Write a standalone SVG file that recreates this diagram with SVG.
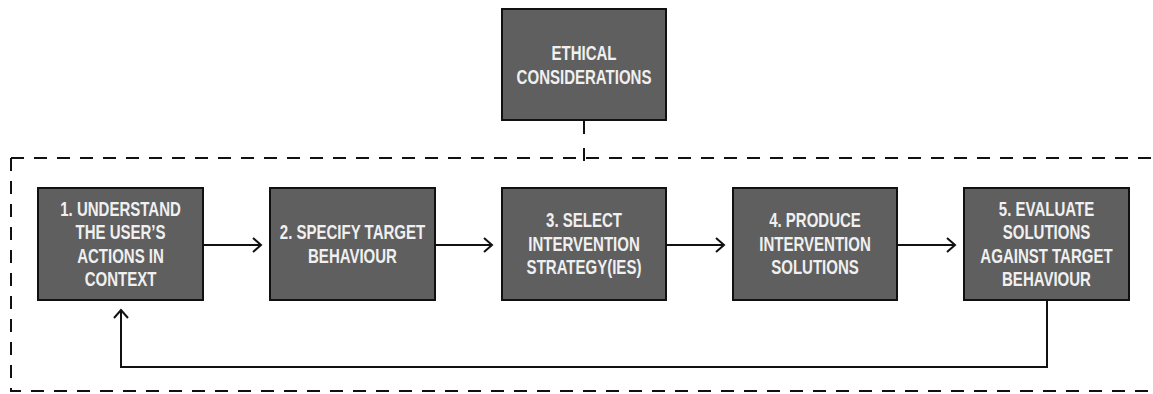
<svg xmlns="http://www.w3.org/2000/svg" width="1153" height="394" viewBox="0 0 1153 394">
<style>
.box{fill:#5f5f5f;stroke:#111;stroke-width:2}
.lbl{font-family:"Liberation Sans",Arial,sans-serif;font-weight:bold;font-size:19.5px;fill:#f0f0f0;text-anchor:middle}
.conn{fill:none;stroke:#111;stroke-width:2}
.frame{fill:none;stroke:#111;stroke-width:2;stroke-dasharray:13 10}
</style>
<defs>
<marker id="arr" markerUnits="userSpaceOnUse" markerWidth="14" markerHeight="16" refX="11" refY="8" orient="auto">
<path d="M3,1 L11,8 L3,15" fill="none" stroke="#111" stroke-width="2"/>
</marker>
</defs>
<g id="frame">
<path class="frame" d="M11,158 H1153"/>
<path class="frame" d="M11,158 V391 H1153"/>
</g>
<g id="ethical">
<rect class="box" x="502" y="9" width="164" height="111"/>
<g transform="translate(584,0) scale(0.77,1)">
<text class="lbl" x="0" y="59.8">ETHICAL</text>
<text class="lbl" x="0" y="83.8">CONSIDERATIONS</text>
</g>
</g>
<g id="step1">
<rect class="box" x="38" y="188" width="165" height="112"/>
<g transform="translate(120.5,0) scale(0.77,1)">
<text class="lbl" x="0" y="215.8">1. UNDERSTAND</text>
<text class="lbl" x="0" y="239.3">THE USER’S</text>
<text class="lbl" x="0" y="262.8">ACTIONS IN</text>
<text class="lbl" x="0" y="286.3">CONTEXT</text>
</g>
</g>
<g id="step2">
<rect class="box" x="270" y="188" width="165" height="112"/>
<g transform="translate(352.5,0) scale(0.77,1)">
<text class="lbl" x="0" y="239.3">2. SPECIFY TARGET</text>
<text class="lbl" x="0" y="262.8">BEHAVIOUR</text>
</g>
</g>
<g id="step3">
<rect class="box" x="502" y="188" width="164" height="112"/>
<g transform="translate(584,0) scale(0.77,1)">
<text class="lbl" x="0" y="227.5">3. SELECT</text>
<text class="lbl" x="0" y="251">INTERVENTION</text>
<text class="lbl" x="0" y="274.5">STRATEGY(IES)</text>
</g>
</g>
<g id="step4">
<rect class="box" x="733" y="188" width="164" height="112"/>
<g transform="translate(815,0) scale(0.77,1)">
<text class="lbl" x="0" y="227.5">4. PRODUCE</text>
<text class="lbl" x="0" y="251">INTERVENTION</text>
<text class="lbl" x="0" y="274.5">SOLUTIONS</text>
</g>
</g>
<g id="step5">
<rect class="box" x="964" y="188" width="165" height="112"/>
<g transform="translate(1046.5,0) scale(0.77,1)">
<text class="lbl" x="0" y="215.8">5. EVALUATE</text>
<text class="lbl" x="0" y="239.3">SOLUTIONS</text>
<text class="lbl" x="0" y="262.8">AGAINST TARGET</text>
<text class="lbl" x="0" y="286.3">BEHAVIOUR</text>
</g>
</g>
<g id="connectors">
<line class="conn" x1="584" y1="121" x2="584" y2="162" stroke-dasharray="13 14"/>
<line class="conn" x1="204" y1="245" x2="261" y2="245" marker-end="url(#arr)"/>
<line class="conn" x1="436" y1="245" x2="492" y2="245" marker-end="url(#arr)"/>
<line class="conn" x1="667" y1="245" x2="724" y2="245" marker-end="url(#arr)"/>
<line class="conn" x1="898" y1="245" x2="955" y2="245" marker-end="url(#arr)"/>
<path class="conn" d="M1047,301 V367 H121 V310" marker-end="url(#arr)"/>
</g>
</svg>
